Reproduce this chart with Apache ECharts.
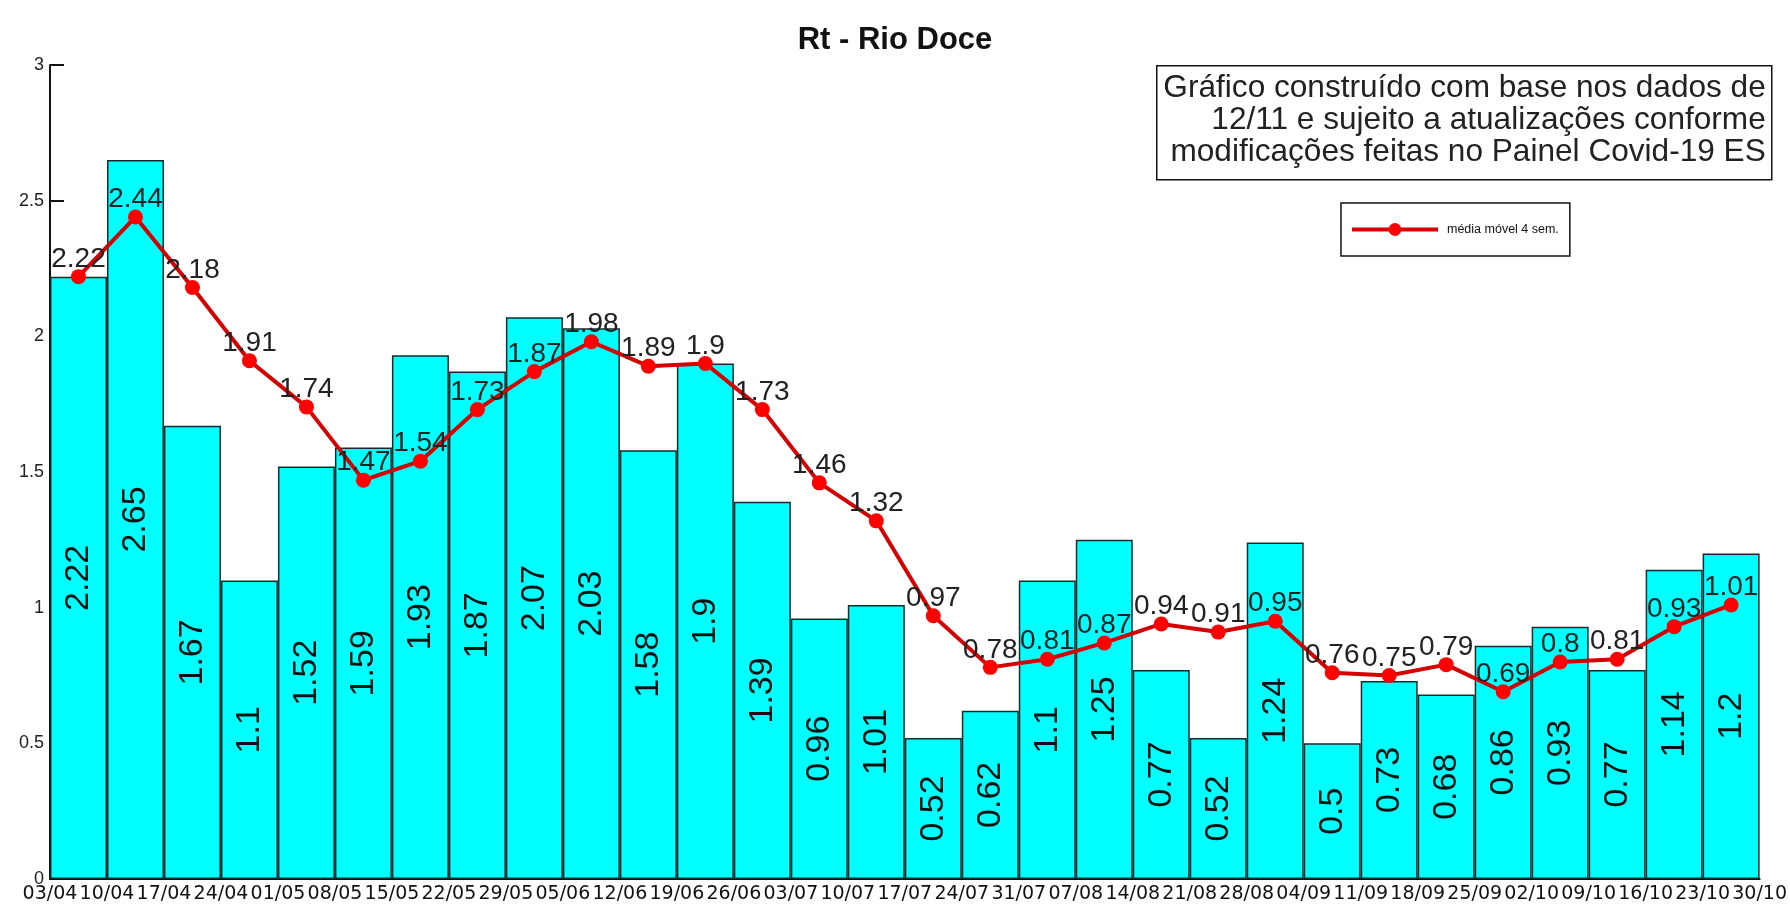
<!DOCTYPE html>
<html>
<head>
<meta charset="utf-8">
<title>Rt - Rio Doce</title>
<script src="https://cdn.jsdelivr.net/npm/echarts@6/dist/echarts.min.js"></script>
<style>
  html, body { margin: 0; padding: 0; background: #fff; }
  #chart { width: 1790px; height: 911px; }
</style>
</head>
<body>
<div id="chart"></div>
<script>
// semanas (rótulos nas divisões entre as barras)
var weekLabels = ['03/04','10/04','17/04','24/04','01/05','08/05','15/05','22/05','29/05','05/06',
  '12/06','19/06','26/06','03/07','10/07','17/07','24/07','31/07','07/08','14/08',
  '21/08','28/08','04/09','11/09','18/09','25/09','02/10','09/10','16/10','23/10','30/10'];
// uma barra por intervalo entre duas datas
var periods = weekLabels.slice(0, weekLabels.length - 1);
// Rt semanal
var rtValues = [2.22, 2.65, 1.67, 1.1, 1.52, 1.59, 1.93, 1.87, 2.07, 2.03,
  1.58, 1.9, 1.39, 0.96, 1.01, 0.52, 0.62, 1.1, 1.25, 0.77,
  0.52, 1.24, 0.5, 0.73, 0.68, 0.86, 0.93, 0.77, 1.14, 1.2];
// média móvel 4 semanas
var movingAvg = [2.22, 2.44, 2.18, 1.91, 1.74, 1.47, 1.54, 1.73, 1.87, 1.98,
  1.89, 1.9, 1.73, 1.46, 1.32, 0.97, 0.78, 0.81, 0.87, 0.94,
  0.91, 0.95, 0.76, 0.75, 0.79, 0.69, 0.8, 0.81, 0.93, 1.01];
var yTicks = [0, 3, 0.5]; // min, max, intervalo

var noteLines = [
  'Gráfico construído com base nos dados de',
  '12/11 e sujeito a atualizações conforme',
  'modificações feitas no Painel Covid-19 ES'
];

var chart = echarts.init(document.getElementById('chart'));

chart.setOption({
  backgroundColor: '#fff',
  animation: false,
  title: {
    text: 'Rt - Rio Doce',
    left: 'center',
    top: 20,
    textStyle: { fontFamily: 'Arial, Liberation Sans', fontSize: 31, fontWeight: 'bold', color: '#111' }
  },
  legend: {
    data: ['média móvel 4 sem.'],
    left: 1341,
    top: 203,
    orient: 'horizontal',
    padding: [20, 11, 20, 9],
    borderColor: '#111',
    borderWidth: 1.5,
    itemWidth: 86,
    itemHeight: 16,
    lineStyle: { width: 4 },
    textStyle: { fontFamily: 'Liberation Sans Narrow, Arial Narrow, Arial', fontSize: 12.5, color: '#111', padding: [0, 0, 0, 4] }
  },
  graphic: [{
    type: 'group',
    left: 1156,
    top: 65,
    children: [{
      type: 'rect',
      shape: { x: 0, y: 0, width: 615, height: 114 },
      style: { fill: '#fff', stroke: '#111', lineWidth: 1.5 }
    }, {
      type: 'text',
      x: 609,
      y: 7,
      style: {
        text: noteLines.join('\n'),
        align: 'right',
        verticalAlign: 'top',
        fontFamily: 'Arial, Liberation Sans',
        fontSize: 31.6,
        lineHeight: 32,
        fill: '#222'
      }
    }]
  }],
  grid: { left: 50, right: 27, top: 65, bottom: 32, containLabel: false },
  xAxis: [{
    type: 'category',
    data: periods,
    boundaryGap: true,
    position: 'bottom',
    axisLine: { show: true, lineStyle: { color: '#111', width: 2 } },
    axisTick: { show: false },
    axisLabel: { show: false }
  }, {
    type: 'category',
    data: weekLabels,
    boundaryGap: false,
    position: 'bottom',
    axisLine: { show: false },
    axisTick: { show: false },
    axisLabel: {
      show: true,
      interval: 0,
      margin: 6,
      fontFamily: 'DejaVu Sans',
      fontSize: 19,
      color: '#111'
    }
  }],
  yAxis: {
    type: 'value',
    min: yTicks[0],
    max: yTicks[1],
    interval: yTicks[2],
    axisLine: { show: true, lineStyle: { color: '#111', width: 2 } },
    axisTick: { show: true, inside: true, length: 14, lineStyle: { color: '#111', width: 2 } },
    splitLine: { show: false },
    axisLabel: { fontFamily: 'Arial, Liberation Sans', fontSize: 18, color: '#222', margin: 6 }
  },
  series: [{
    name: 'Rt',
    type: 'bar',
    data: rtValues,
    barWidth: '100%',
    barCategoryGap: 0,
    itemStyle: { color: '#00ffff', borderColor: '#1a2a2a', borderWidth: 1.5 },
    label: {
      show: true,
      position: 'inside',
      rotate: 90,
      fontFamily: 'Arial, Liberation Sans',
      fontSize: 34,
      color: '#111'
    }
  }, {
    name: 'média móvel 4 sem.',
    type: 'line',
    data: movingAvg,
    symbol: 'circle',
    symbolSize: 15,
    lineStyle: { color: '#d40000', width: 4 },
    itemStyle: { color: '#ff0000' },
    label: {
      show: true,
      position: 'top',
      distance: -4,
      fontFamily: 'Arial, Liberation Sans',
      fontSize: 28,
      color: '#222'
    }
  }]
});
</script>
</body>
</html>
